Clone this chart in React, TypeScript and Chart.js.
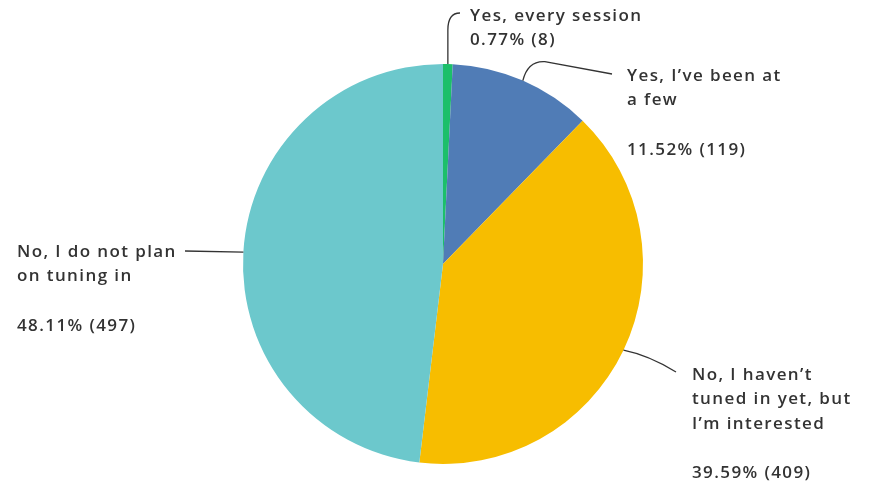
import React, { useEffect, useRef } from "react";
import { Chart, registerables } from "chart.js";

Chart.register(...registerables);

const categories = [
  "Yes, every session",
  "Yes, I’ve been at a few",
  "No, I haven’t tuned in yet, but I’m interested",
  "No, I do not plan on tuning in",
];
const counts = [8, 119, 409, 497];
const percentLabels = ["0.77%", "11.52%", "39.59%", "48.11%"];
const labelLines = [
  ["Yes, every session"],
  ["Yes, I’ve been at", "a few", ""],
  ["No, I haven’t", "tuned in yet, but", "I’m interested", ""],
  ["No, I do not plan", "on tuning in", ""],
];
const colors = ["#1cbf6a", "#507cb6", "#f7bd00", "#6cc8cc"];

// label text anchor (left x, first line center y)
const labelPos = [
  { x: 470, y: 16 },
  { x: 627, y: 76 },
  { x: 692, y: 375 },
  { x: 17, y: 252 },
];

const labelPlugin = {
  id: "pieLabels",
  afterDraw(chart: any) {
    const ctx = chart.ctx;
    const meta = chart.getDatasetMeta(0);
    ctx.save();
    ctx.font = "600 17px 'Open Sans'";
    try {
      (ctx as any).letterSpacing = "1.4px";
    } catch (e) {}
    ctx.fillStyle = "#333333";
    ctx.textBaseline = "middle";
    ctx.textAlign = "left";
    ctx.strokeStyle = "#333333";
    ctx.lineWidth = 1.3;
    const lh = 24.6;
    meta.data.forEach((arc: any, i: number) => {
      const { x, y, startAngle, endAngle, outerRadius } = arc.getProps(
        ["x", "y", "startAngle", "endAngle", "outerRadius"],
        true
      );
      const mid = (startAngle + endAngle) / 2;
      const ax = x + Math.cos(mid) * outerRadius;
      const ay = y + Math.sin(mid) * outerRadius;
      const p = labelPos[i];
      ctx.beginPath();
      ctx.moveTo(ax, ay);
      if (i === 0) {
        ctx.lineTo(ax, p.y + 14);
        ctx.quadraticCurveTo(ax, p.y - 3, p.x - 10, p.y - 3);
      } else if (i === 1) {
        ctx.quadraticCurveTo(ax + 5, ay - 20, ax + 22, ay - 19);
        ctx.lineTo(p.x - 15, p.y - 2);
      } else if (i === 2) {
        ctx.quadraticCurveTo(ax + 25, ay + 5, p.x - 16, p.y - 3);
      } else {
        ctx.lineTo(p.x + 168, p.y - 1);
      }
      ctx.stroke();
      const lines = [...labelLines[i], `${percentLabels[i]} (${counts[i]})`];
      lines.forEach((t, k) => {
        if (t) ctx.fillText(t, p.x, p.y + k * lh);
      });
    });
    ctx.restore();
  },
};

export default function App() {
  const ref = useRef<HTMLCanvasElement>(null);
  useEffect(() => {
    if (!ref.current) return;
    const chart = new Chart(ref.current, {
      type: "pie",
      data: {
        labels: categories,
        datasets: [
          {
            data: counts,
            backgroundColor: colors,
            borderWidth: 0,
          },
        ],
      },
      options: {
        responsive: false,
        animation: false,
        layout: { padding: { top: 64, bottom: 20, left: 43, right: 26 } },
        plugins: {
          legend: { display: false },
          tooltip: { enabled: false },
        },
      },
      plugins: [labelPlugin],
    });
    return () => chart.destroy();
  }, []);
  return (
    <div style={{ position: "absolute", left: 0, top: 0, width: 869, height: 484, background: "#fff" }}>
      <canvas ref={ref} width={869} height={484} style={{ display: "block" }} />
    </div>
  );
}
